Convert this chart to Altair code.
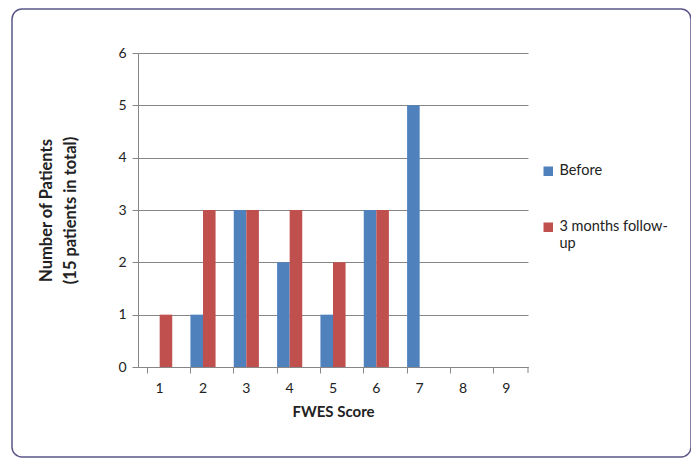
import altair as alt
import pandas as pd

scores = [1, 2, 3, 4, 5, 6, 7, 8, 9]
before = [0, 1, 3, 2, 1, 3, 5, 0, 0]
followup = [1, 3, 3, 3, 2, 3, 0, 0, 0]
series_names = ["Before", "3 months follow-up"]
colors = ["#4F81BD", "#C0504D"]

rows = []
for s, b, f in zip(scores, before, followup):
    rows.append({"score": s, "series": series_names[0], "count": b})
    rows.append({"score": s, "series": series_names[1], "count": f})
df = pd.DataFrame(rows)

FONT = "Lato"

bars = alt.Chart(df).mark_bar().encode(
    x=alt.X(
        "score:O",
        title="FWES Score",
        scale=alt.Scale(paddingInner=0.42, paddingOuter=0.21),
        axis=alt.Axis(
            labelAngle=0, bandPosition=0, tickSize=6, labelPadding=8,
            domainColor="#868686", tickColor="#868686", labelFontSize=14,
            titleFontSize=15, titleFontWeight="bold", titlePadding=9,
            labelColor="#222", titleColor="#222", grid=False,
        ),
    ),
    xOffset=alt.XOffset("series:N", sort=series_names),
    y=alt.Y(
        "count:Q",
        title=["Number of Patients", "(15 patients in total)"],
        scale=alt.Scale(domain=[0, 6]),
        axis=alt.Axis(
            values=[0, 1, 2, 3, 4, 5, 6], tickSize=6, labelPadding=6,
            domainColor="#868686", tickColor="#868686", gridColor="#868686",
            labelFontSize=14, titleFontSize=16.5, titleFontWeight="bold",
            titleLineHeight=24, titlePadding=39, labelColor="#222", titleColor="#222",
        ),
    ),
    color=alt.Color(
        "series:N",
        sort=series_names,
        scale=alt.Scale(domain=series_names, range=colors),
        legend=alt.Legend(
            title=None, orient="none", legendX=403, legendY=111,
            symbolType="square", symbolSize=90, symbolStrokeWidth=0,
            labelFontSize=14.5, labelColor="#222", rowPadding=41,
            labelExpr="datum.label == '3 months follow-up' ? ['3 months follow-', 'up'] : datum.label",
        ),
    ),
)

frame_df = pd.DataFrame({"k": [0]})
border = alt.Chart(frame_df).mark_rect(
    fill=None, fillOpacity=0, stroke="#5B5788", strokeWidth=1.5, cornerRadius=10,
).encode(
    x=alt.value(-126), x2=alt.value(553), y=alt.value(-44), y2=alt.value(404)
)

end_tick = alt.Chart(frame_df).mark_rule(color="#868686").encode(
    x=alt.value(390), y=alt.value(314), y2=alt.value(320)
)

chart = alt.layer(bars, end_tick, border).properties(
    width=390, height=314,
    autosize=alt.AutoSizeParams(type="none"),
    padding={"left": 130, "top": 45, "right": 163, "bottom": 92},
).configure(font=FONT).configure_view(stroke=None)

chart.save("out.html", embed_options={"renderer": "svg", "actions": False})
